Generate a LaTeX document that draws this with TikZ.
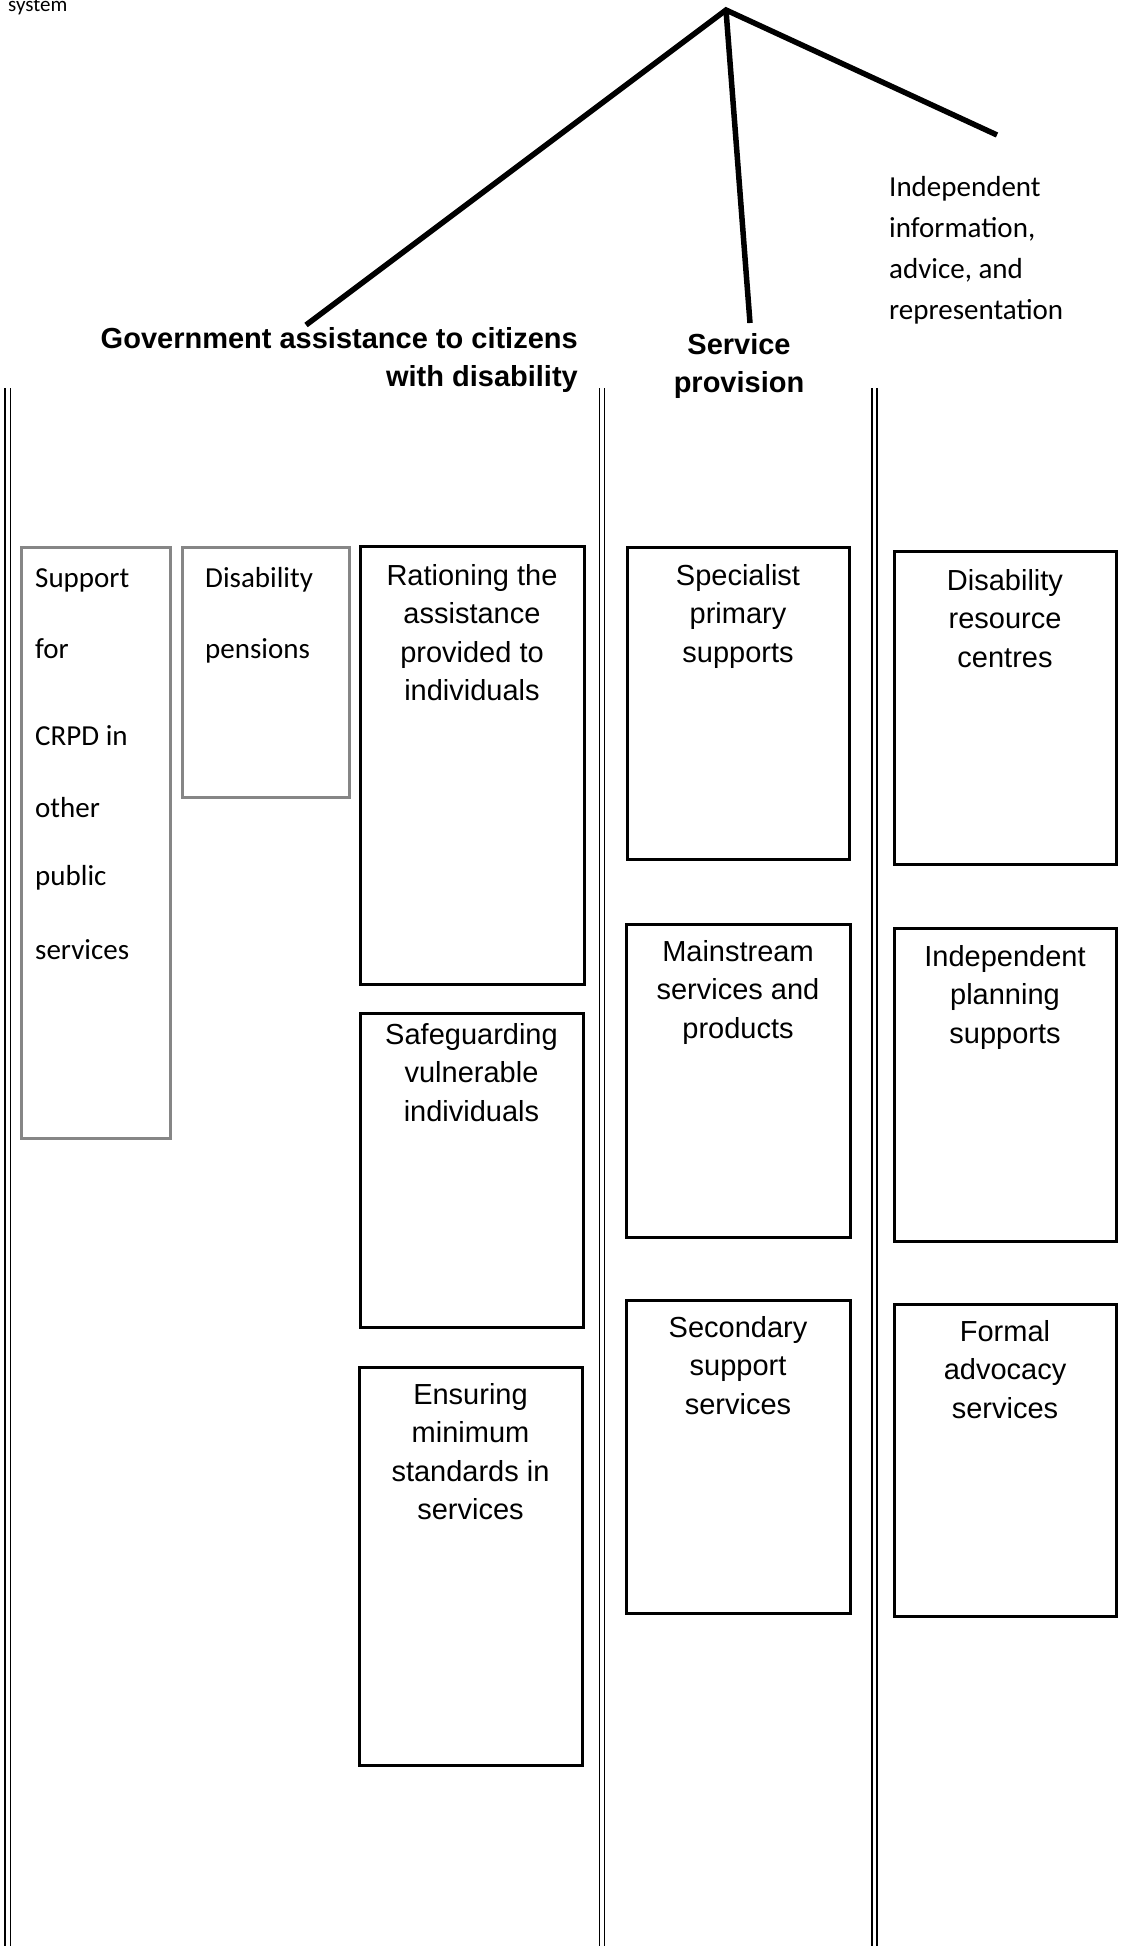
\documentclass[tikz,border=0pt]{standalone}
\usepackage{fontspec}
\setmainfont{Liberation Sans}
\newfontfamily\calib{Carlito}
\usetikzlibrary{fit}
\definecolor{boxgray}{RGB}{134,134,134}
\begin{document}
\begin{tikzpicture}[x=1pt,y=-1pt,
  blackbox/.style={draw=black, line width=3pt, inner sep=0pt, rectangle},
  graybox/.style={draw=boxgray, line width=3pt, inner sep=0pt, rectangle},
  btext/.style={inner sep=0pt, align=center, anchor=north, font=\fontsize{29}{38.5}\selectfont},
  htext/.style={inner sep=0pt, font=\fontsize{29}{37}\selectfont\bfseries},
  ctext/.style={inner sep=0pt, anchor=base west, font=\calib\fontsize{29}{41}\selectfont},
  vline/.style={draw=black, line width=1.6pt},
  branch/.style={draw=black, line width=5.5pt}]
\useasboundingbox (0,0) rectangle (1131,1946);
\fill[white] (0,0) rectangle (1131,1946);

% top-left text, cut at the top edge as in the reference
\node[inner sep=0pt, anchor=base west, font=\calib\fontsize{21}{25}\selectfont] (sys) at (8,11) {system};

% branches
\coordinate (apex) at (726,10);
\coordinate (eL) at (306,325);
\coordinate (eM) at (750,323);
\coordinate (eR) at (997,135);
\draw[branch, line join=miter] (eL) -- (apex) -- (eR);
\draw[branch] (apex) -- (eM);

% headers
\node[htext, anchor=base east] (gov1) at (578,348) {Government assistance to citizens};
\node[htext, anchor=base east] (gov2) at (578,386) {with disability};
\node[htext, anchor=base] (ser1) at (739,354) {Service};
\node[htext, anchor=base] (ser2) at (739,392) {provision};

\node[ctext] (ind1) at (889,196) {Independent};
\node[ctext] (ind2) at (889,237) {information,};
\node[ctext] (ind3) at (889,278) {advice, and};
\node[ctext] (ind4) at (889,319) {representation};

% double vertical lines
\coordinate (l1t) at (5,388);   \coordinate (l1b) at (5,1946);
\coordinate (l2t) at (10.5,388); \coordinate (l2b) at (10.5,1946);
\coordinate (m1t) at (599.5,388); \coordinate (m1b) at (599.5,1946);
\coordinate (m2t) at (604.5,388); \coordinate (m2b) at (604.5,1946);
\coordinate (r1t) at (872,388); \coordinate (r1b) at (872,1946);
\coordinate (r2t) at (877,388); \coordinate (r2b) at (877,1946);
\draw[vline] (l1t) -- (l1b);
\draw[vline] (l2t) -- (l2b);
\draw[vline] (m1t) -- (m1b);
\draw[vline] (m2t) -- (m2b);
\draw[vline] (r1t) -- (r1b);
\draw[vline] (r2t) -- (r2b);

% gray boxes
\node[graybox, fit={(21,547) (170,1138)}] (sup) {};
\node[graybox, fit={(182,547) (349,797)}] (pen) {};
\node[ctext] (sup1) at (35,587) {Support};
\node[ctext] (sup2) at (35,658) {for};
\node[ctext] (sup3) at (35,745) {CRPD in};
\node[ctext] (sup4) at (35,817) {other};
\node[ctext] (sup5) at (35,885) {public};
\node[ctext] (sup6) at (35,959) {services};
\node[ctext] (pen1) at (205,587) {Disability};
\node[ctext] (pen2) at (205,658) {pensions};

% black boxes column 1
\node[blackbox, fit={(360,546) (584,984)}] (rat) {};
\node[blackbox, fit={(360,1013) (583,1327)}] (saf) {};
\node[blackbox, fit={(359,1367) (582,1765)}] (ens) {};
\node[btext] (ratT) at (472,555) {\rule{0pt}{30pt}Rationing the\\assistance\\provided to\\individuals};
\node[btext] (safT) at (471.5,1014) {\rule{0pt}{30pt}Safeguarding\\vulnerable\\individuals};
\node[btext] (ensT) at (470.5,1374) {\rule{0pt}{30pt}Ensuring\\minimum\\standards in\\services};

% column 2
\node[blackbox, fit={(627,547) (849,859)}] (spe) {};
\node[blackbox, fit={(626,924) (850,1237)}] (mai) {};
\node[blackbox, fit={(626,1300) (850,1613)}] (sec) {};
\node[btext] (speT) at (738,555) {\rule{0pt}{30pt}Specialist\\primary\\supports};
\node[btext] (maiT) at (738,931) {\rule{0pt}{30pt}Mainstream\\services and\\products};
\node[btext] (secT) at (738,1307) {\rule{0pt}{30pt}Secondary\\support\\services};

% column 3
\node[blackbox, fit={(894,551) (1116,864)}] (drc) {};
\node[blackbox, fit={(894,928) (1116,1241)}] (ipl) {};
\node[blackbox, fit={(894,1304) (1116,1616)}] (fad) {};
\node[btext] (drcT) at (1005,560) {\rule{0pt}{30pt}Disability\\resource\\centres};
\node[btext] (iplT) at (1005,936) {\rule{0pt}{30pt}Independent\\planning\\supports};
\node[btext] (fadT) at (1005,1311) {\rule{0pt}{30pt}Formal\\advocacy\\services};
\end{tikzpicture}
\end{document}
